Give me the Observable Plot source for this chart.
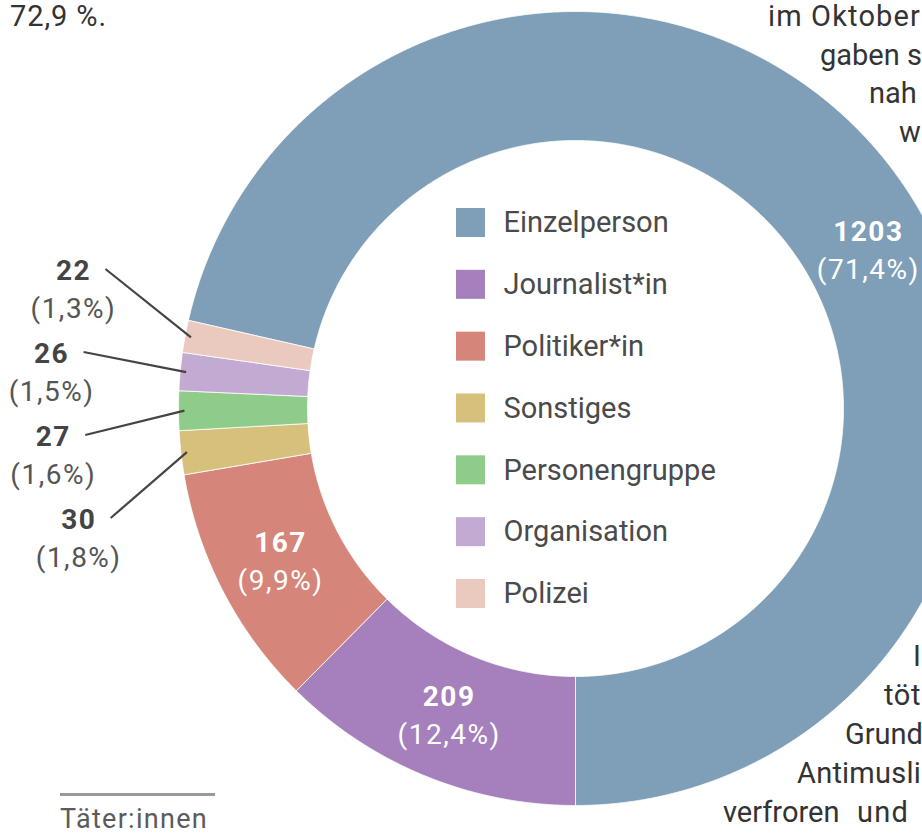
<!DOCTYPE html>
<html>
<head>
<meta charset="utf-8">
<script src="https://cdn.jsdelivr.net/npm/d3@7"></script>
<script src="https://cdn.jsdelivr.net/npm/@observablehq/plot@0.6"></script>
<style>
html,body{margin:0;padding:0;background:#fff;}
#wrap{position:relative;width:922px;height:834px;overflow:hidden;font-family:Roboto,sans-serif;}
#wrap svg{position:absolute;left:0;top:0;}
.t{position:absolute;white-space:nowrap;line-height:1;color:#333;}
.rule{position:absolute;background:#9a9a9a;}
</style>
</head>
<body>
<div id="wrap"></div>
<script>
// ---- data ----
const categories = ["Einzelperson","Journalist*in","Politiker*in","Sonstiges","Personengruppe","Organisation","Polizei"];
const counts = [1203, 209, 167, 30, 27, 26, 22];
const colors = ["#7f9fb8","#a680bc","#d5857a","#d6c07c","#8fcc8a","#c2aad2","#eac9bf"];
const caption = "Täter:innen";
// surrounding article fragments visible in the crop: [text, left, right, baseline]
const articleText = [
  ["72,9 %.", 10, 107, 26.5],
  ["im Oktober", 768, 921, 26.5],
  ["gaben s", 820, null, 65],
  ["nah", 869, null, 103.5],
  ["w", 899, null, 142],
  ["I", 913, null, 666],
  ["töt", 884, 921, 705],
  ["Grund", 845, null, 744],
  ["Antimusli", 797, 921, 783],
  ["verfroren", 723, null, 822],
  ["und", 857, 909, 822]
];

// ---- layout ----
const W = 922, H = 834, CX = 575, CY = 408, R = 397;
const inner = 268 / R;
const ux = px => (px - CX) / R, uy = py => (CY - py) / R;
const total = d3.sum(counts);
const pct = counts.map(c => (c / total * 100).toFixed(1).replace(".", ","));

const start = Math.PI - 2 * Math.PI * counts[0] / total;
const arcs = d3.pie().sort(null).value(d => d).startAngle(start).endAngle(start + 2 * Math.PI)(counts);

const poly = [];
arcs.forEach((a, i) => {
  const n = Math.max(2, Math.ceil((a.endAngle - a.startAngle) / 0.004));
  const pts = [];
  for (let k = 0; k <= n; k++) { const t = a.startAngle + (a.endAngle - a.startAngle) * k / n; pts.push([Math.sin(t), Math.cos(t)]); }
  for (let k = n; k >= 0; k--) { const t = a.startAngle + (a.endAngle - a.startAngle) * k / n; pts.push([inner * Math.sin(t), inner * Math.cos(t)]); }
  pts.push(pts[0]);
  pts.forEach(([x, y]) => poly.push({cat: categories[i], x, y}));
});

const mid = a => (a.startAngle + a.endAngle) / 2;
const rl = (1 + inner) / 2;
const innerLabels = [0, 1, 2].map(i => {
  const ang = mid(arcs[i]) + (i === 0 ? 0.18 : 0);
  return {x: rl * Math.sin(ang), y: rl * Math.cos(ang), n: String(counts[i]), p: `(${pct[i]}%)`};
});

const outerIdx = [6, 5, 4, 3];
const outerLabels = outerIdx.map((i, k) => {
  const y = -(6 + (k - 1.5) * 83) / R;
  const x = -1.325 * Math.sqrt(1 - y * y);
  const ang = mid(arcs[i]);
  return {x, y, n: String(counts[i]), p: `(${pct[i]}%)`,
    lx1: x + 32 / R, ly1: y + 21 / R,
    lx2: 0.985 * Math.sin(ang), ly2: 0.985 * Math.cos(ang)};
});

const legend = categories.map((c, i) => {
  const cy = 222.5 + i * 61.83;
  return {cat: c, x1: ux(456), x2: ux(485), y1: uy(cy - 14.5), y2: uy(cy + 14.5), tx: ux(503), ty: uy(cy)};
});

const chart = Plot.plot({
  width: W, height: H, margin: 0,
  x: {domain: [ux(0), ux(W)], range: [0, W], axis: null},
  y: {domain: [uy(H), uy(0)], range: [H, 0], axis: null},
  color: {domain: categories, range: colors},
  style: {fontFamily: "Roboto, sans-serif", background: "transparent", overflow: "visible"},
  marks: [
    Plot.line(poly, {x: "x", y: "y", z: "cat", fill: "cat", stroke: "#ffffff", strokeWidth: 1, strokeOpacity: 0.8, curve: "linear"}),
    Plot.text(innerLabels, {x: "x", y: "y", text: "n", dy: -19, fill: "white", fontSize: 28, fontWeight: "bold"}),
    Plot.text(innerLabels, {x: "x", y: "y", text: "p", dy: 19, fill: "white", fontSize: 28}),
    Plot.text(outerLabels, {x: "x", y: "y", text: "n", dy: -19, fill: "#444", fontSize: 28, fontWeight: "bold"}),
    Plot.text(outerLabels, {x: "x", y: "y", text: "p", dy: 19, fill: "#555", fontSize: 28}),
    Plot.link(outerLabels, {x1: "lx1", y1: "ly1", x2: "lx2", y2: "ly2", stroke: "#444", strokeWidth: 2.2}),
    Plot.rect(legend, {x1: "x1", x2: "x2", y1: "y1", y2: "y2", fill: "cat"}),
    Plot.text(legend, {x: "tx", y: "ty", text: "cat", textAnchor: "start", fill: "#4a4a4a", fontSize: 29})
  ]
});

const wrap = document.getElementById("wrap");
wrap.appendChild(chart);
d3.select(chart).selectAll('g[aria-label="text"]').filter((d, i) => i < 4)
  .selectAll("text").style("letter-spacing", "1.5px");

function place(txt, left, right, baseline, size, color) {
  const s = document.createElement("span");
  s.className = "t";
  s.textContent = txt;
  s.style.left = left + "px";
  s.style.top = (baseline - 0.842 * size) + "px";
  s.style.fontSize = size + "px";
  s.style.color = color;
  wrap.appendChild(s);
  if (right != null && txt.length > 1) {
    const w0 = s.getBoundingClientRect().width;
    const ls = Math.max(0, (right - left - w0) / txt.length);
    s.style.letterSpacing = ls + "px";
  }
}
articleText.forEach(([t, l, r, b]) => place(t, l, r, b, 29, "#333"));
place(caption, 60, 208, 829, 27, "#5b5b5b");
const rule = document.createElement("div");
rule.className = "rule";
Object.assign(rule.style, {left: "60px", top: "793px", width: "155px", height: "2.5px"});
wrap.appendChild(rule);
</script>
</body>
</html>
